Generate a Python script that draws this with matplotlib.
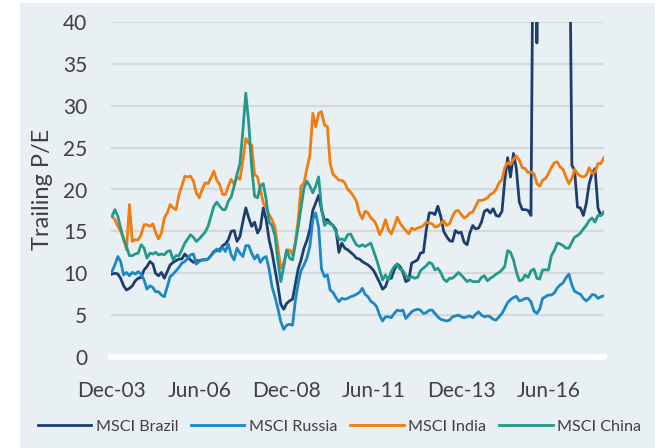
import numpy as np
import pandas as pd
import matplotlib
matplotlib.use("Agg")
import matplotlib.pyplot as plt
import matplotlib.dates as mdates
from matplotlib.patches import Rectangle

# monthly trailing P/E, Dec-03 .. Jan-18
dates = pd.date_range("2003-12-01", periods=170, freq="MS")

brazil = [
    9.9, 10.0, 9.9, 9.4, 8.5, 8.0, 8.2, 8.5, 9.1, 9.4, 9.5, 10.4, 10.8, 11.4, 11.1, 10.0, 9.7, 10.1, 9.4, 10.2,
    11.0, 11.3, 11.5, 11.7, 11.7, 12.3, 11.9, 11.6, 11.3, 11.5, 11.5, 11.6, 11.6, 11.7, 12.1, 12.6, 12.7, 12.8, 13.3, 13.5,
    14.0, 15.0, 15.1, 13.8, 14.4, 16.2, 17.8, 16.6, 15.6, 16.1, 14.8, 15.4, 17.8, 16.4, 14.0, 12.5, 10.5, 8.5, 6.3, 5.7,
    6.4, 6.7, 6.9, 8.6, 10.5, 11.6, 13.0, 13.9, 15.2, 17.5, 18.4, 19.3, 17.6, 16.3, 16.4, 16.0, 15.7, 15.2, 12.5, 13.6,
    13.0, 12.8, 12.5, 12.2, 11.8, 11.7, 11.4, 11.2, 11.0, 10.7, 10.3, 9.6, 8.9, 8.1, 8.4, 9.4, 9.4, 10.4, 11.1, 10.8,
    10.1, 9.0, 9.2, 11.2, 11.4, 11.6, 12.4, 12.5, 15.2, 17.2, 17.2, 17.0, 18.0, 16.8, 15.0, 14.4, 13.9, 13.8, 15.1, 14.8,
    14.9, 13.7, 13.4, 14.8, 15.7, 15.3, 15.4, 16.1, 17.4, 17.6, 17.2, 17.7, 16.9, 16.8, 17.4, 21.0, 23.8, 21.5, 24.3, 22.5,
    18.5, 17.6, 17.6, 17.5, 16.9, 65.0, 37.5, 60.0, 70.0, 75.0, 80.0, 80.0, 75.0, 70.0, 70.0, 65.0, 65.0, 60.0, 22.9, 22.3,
    17.9, 17.8, 16.9, 18.3, 20.7, 21.9, 22.5, 17.8, 16.9, 17.3,
]

russia = [
    10.2, 11.0, 12.0, 11.4, 9.8, 10.1, 9.7, 10.1, 9.9, 10.2, 9.9, 9.2, 8.1, 8.5, 8.3, 7.8, 7.8, 7.4, 7.2, 8.4,
    9.6, 9.9, 10.3, 10.7, 11.2, 11.4, 11.8, 12.2, 12.3, 11.1, 11.4, 11.6, 11.6, 11.7, 12.1, 12.5, 12.9, 12.6, 13.1, 12.6,
    13.5, 12.2, 11.6, 13.0, 12.4, 12.0, 13.3, 13.3, 12.4, 11.7, 12.2, 11.3, 11.8, 12.0, 10.5, 8.4, 7.2, 5.8, 4.2, 3.3,
    3.8, 3.9, 3.8, 6.6, 8.8, 10.3, 11.0, 11.8, 13.2, 16.4, 17.2, 15.5, 10.5, 9.6, 9.8, 8.0, 7.7, 7.1, 6.6, 7.0,
    6.9, 7.0, 7.2, 7.3, 7.5, 7.7, 8.2, 7.5, 7.2, 6.65, 6.4, 6.0, 5.0, 4.3, 4.8, 4.8, 4.7, 5.2, 5.6, 5.5,
    5.6, 4.6, 5.0, 5.4, 5.6, 5.7, 5.6, 5.2, 5.3, 5.6, 5.6, 5.2, 4.8, 4.5, 4.4, 4.3, 4.4, 4.8, 4.9, 5.0,
    4.8, 4.7, 4.8, 4.9, 4.7, 5.1, 5.4, 5.0, 4.8, 4.9, 4.8, 4.5, 4.4, 4.8, 5.2, 5.8, 6.5, 6.85, 7.1, 7.25,
    6.7, 6.8, 7.0, 7.0, 6.6, 5.5, 5.2, 5.7, 7.0, 7.2, 7.4, 7.4, 7.65, 8.25, 8.6, 8.85, 9.45, 9.9, 8.6, 7.85,
    7.65, 7.5, 7.0, 6.7, 7.0, 7.45, 7.4, 7.0, 7.2, 7.3,
]

india = [
    16.8, 16.4, 15.6, 15.0, 14.2, 12.8, 18.2, 13.8, 14.0, 14.0, 14.6, 15.8, 15.8, 15.6, 15.9, 14.9, 14.1, 14.8, 16.6, 17.2,
    18.2, 17.8, 17.6, 19.4, 20.4, 21.6, 21.5, 21.6, 21.0, 19.6, 19.0, 20.0, 20.8, 20.7, 21.4, 22.2, 21.1, 20.6, 19.4, 19.4,
    20.4, 21.2, 20.6, 21.5, 21.2, 23.5, 26.1, 25.5, 25.3, 21.8, 21.5, 20.0, 18.4, 17.8, 17.0, 16.4, 15.5, 13.0, 10.6, 11.2,
    12.6, 12.8, 12.2, 13.6, 16.4, 20.4, 20.8, 22.5, 24.1, 29.1, 27.5, 29.1, 29.3, 27.7, 27.5, 23.1, 21.8, 21.5, 21.1, 21.1,
    20.8, 20.0, 19.7, 19.2, 18.6, 17.2, 16.5, 17.4, 17.2, 16.6, 16.3, 15.7, 14.6, 15.3, 16.4, 15.2, 14.7, 15.6, 16.7, 16.0,
    15.5, 15.1, 14.7, 15.4, 15.2, 15.4, 15.5, 15.7, 16.1, 16.0, 15.9, 15.5, 15.6, 15.9, 16.3, 15.7, 15.9, 16.8, 17.4, 17.5,
    17.0, 16.6, 16.8, 17.2, 17.3, 18.0, 18.7, 18.7, 18.8, 19.0, 19.4, 19.6, 20.0, 20.8, 21.2, 22.6, 23.2, 23.0, 23.6, 24.0,
    23.5, 22.6, 22.5, 22.0, 22.1, 21.9, 20.7, 20.4, 21.1, 21.3, 21.9, 22.6, 23.2, 23.3, 22.7, 22.4, 21.5, 20.7, 21.3, 22.4,
    21.9, 21.6, 21.5, 21.7, 22.6, 21.9, 22.1, 23.1, 23.1, 23.8,
]

china = [
    16.8, 17.6, 16.8, 15.4, 14.0, 13.2, 12.1, 12.1, 12.3, 12.4, 13.4, 13.0, 11.8, 12.4, 12.3, 12.5, 12.2, 12.3, 12.2, 12.6,
    12.7, 11.6, 12.1, 12.1, 12.8, 13.6, 14.1, 14.6, 14.3, 13.8, 14.1, 14.5, 14.9, 15.6, 16.8, 18.0, 18.5, 18.0, 17.6, 17.6,
    18.6, 19.1, 20.4, 21.8, 23.1, 27.1, 31.5, 27.9, 22.7, 19.2, 19.0, 20.4, 20.7, 18.8, 16.1, 15.7, 14.5, 11.5, 9.0, 10.8,
    12.8, 11.8, 11.6, 13.4, 15.5, 17.8, 20.2, 21.0, 20.4, 19.6, 20.4, 21.5, 17.8, 15.7, 16.1, 15.9, 15.7, 14.9, 14.0, 14.1,
    13.9, 14.6, 14.7, 14.0, 13.4, 13.2, 13.4, 13.2, 13.4, 13.6, 12.6, 11.6, 10.4, 9.2, 9.8, 9.2, 10.2, 10.8, 11.1, 10.5,
    10.3, 9.7, 9.4, 9.6, 9.4, 9.5, 10.3, 10.6, 10.9, 11.3, 11.1, 10.4, 10.6, 10.1, 9.3, 9.0, 9.4, 9.4, 9.7, 10.1,
    9.8, 9.4, 9.0, 9.2, 9.0, 9.0, 9.0, 9.5, 9.7, 9.1, 9.4, 9.6, 9.9, 10.1, 10.4, 10.8, 12.7, 12.5, 11.6, 10.2,
    9.1, 9.2, 9.8, 9.5, 10.3, 10.5, 9.4, 9.3, 10.4, 10.4, 10.4, 12.1, 12.7, 13.6, 13.5, 13.3, 13.0, 13.0, 13.7, 14.3,
    14.5, 14.8, 15.3, 15.7, 16.3, 16.6, 16.1, 16.9, 16.9, 17.3,
]

series = [("MSCI Brazil", brazil, "#1d3d6f"),
          ("MSCI Russia", russia, "#1a87c6"),
          ("MSCI India", india, "#f27c0c"),
          ("MSCI China", china, "#22998a")]

plt.rcParams["font.family"] = ["Lato", "DejaVu Sans"]

fig = plt.figure(figsize=(6.62, 4.48), dpi=100)
fig.patch.set_facecolor("white")
# light panel behind the chart
fig.patches.append(Rectangle((20 / 662, 0), 635 / 662, 445 / 448, transform=fig.transFigure,
                             facecolor="#e8f0f4", edgecolor="none", zorder=-5))

ax = fig.add_axes([111 / 662, 1 - 357 / 448, 493 / 662, 335 / 448])
ax.set_zorder(2)
ax.set_facecolor("none")

for name, vals, col in series:
    ax.plot(dates, vals, color=col, lw=2.0, label=name, zorder=3)

ax.set_ylim(0, 40)
ax.set_yticks(range(0, 41, 5))
ax.set_xlim(dates[0] - pd.Timedelta(days=10), dates[-1] + pd.Timedelta(days=2))
ax.set_xticks(dates[::30])
ax.xaxis.set_major_formatter(mdates.DateFormatter("%b-%y"))

for y in range(5, 41, 5):
    ax.axhline(y, color="#d6d9db", lw=1.6, zorder=1)
ax.axhline(0, color="white", lw=4, zorder=2, clip_on=False)

for s in ax.spines.values():
    s.set_visible(False)
ax.tick_params(axis="both", length=0, labelsize=15, labelcolor="#404040")
ax.tick_params(axis="x", pad=17)
ax.tick_params(axis="y", pad=17)
ax.set_ylabel("Trailing P/E", fontsize=17, color="#404040", labelpad=7)

fig.legend(loc="center", bbox_to_anchor=(0.513, 0.047), ncol=4, frameon=False,
           fontsize=11.6, handlelength=3.3, handletextpad=0.3, columnspacing=0.8,
           labelcolor="#404040")

fig.savefig("out.png", dpi=100)
